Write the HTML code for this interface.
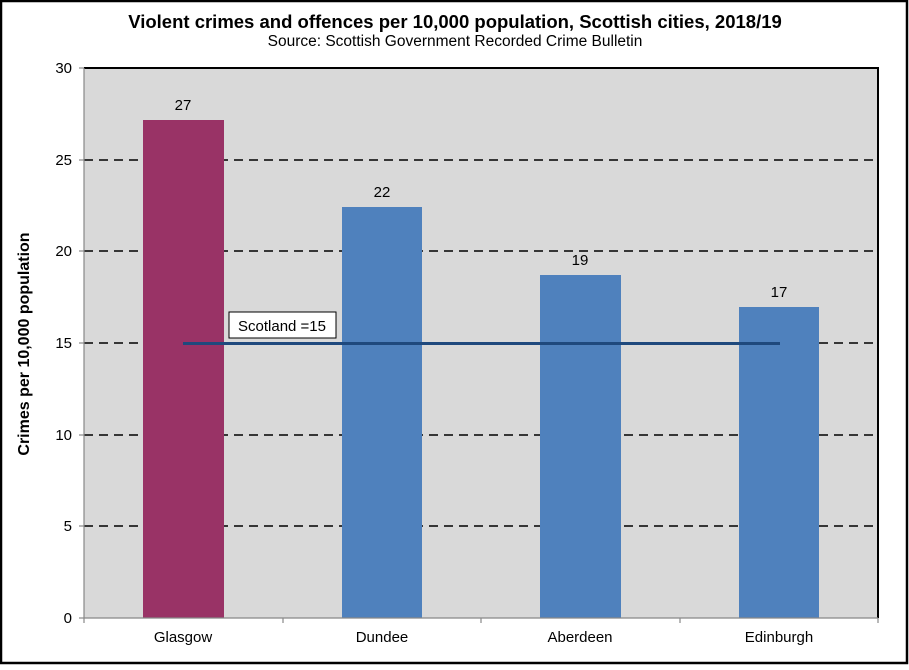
<!DOCTYPE html>
<html><head><meta charset="utf-8"><style>
body{margin:0;background:#fff}
svg text{font-family:"Liberation Sans",Arial,sans-serif}
</style></head><body>
<svg width="909" height="665" viewBox="0 0 909 665" xmlns="http://www.w3.org/2000/svg">
<rect x="1" y="1" width="906" height="662" fill="#fff" stroke="#000" stroke-width="2.5"/>
<text x="455" y="28" font-size="18.5" font-weight="bold" text-anchor="middle">Violent crimes and offences per 10,000 population, Scottish cities, 2018/19</text>
<text x="455" y="46" font-size="15.5" text-anchor="middle">Source: Scottish Government Recorded Crime Bulletin</text>
<rect x="84" y="68" width="794" height="550" fill="#d9d9d9"/>
<g stroke="#000" stroke-width="1.5" stroke-dasharray="9,6">
<line x1="84" y1="160" x2="878" y2="160"/>
<line x1="84" y1="251" x2="878" y2="251"/>
<line x1="84" y1="343" x2="878" y2="343"/>
<line x1="84" y1="435" x2="878" y2="435"/>
<line x1="84" y1="526" x2="878" y2="526"/>
</g>
<rect x="143" y="120" width="81" height="498" fill="#993366"/>
<rect x="342" y="207" width="80" height="411" fill="#4f81bd"/>
<rect x="540" y="275" width="81" height="343" fill="#4f81bd"/>
<rect x="739" y="307" width="80" height="311" fill="#4f81bd"/>
<line x1="183" y1="343.5" x2="780" y2="343.5" stroke="#1f497d" stroke-width="3"/>
<rect x="229" y="312" width="107" height="26" fill="#fff" stroke="#000" stroke-width="1"/>
<text x="282" y="331" font-size="15" text-anchor="middle">Scotland =15</text>
<g font-size="15" text-anchor="middle">
<text x="183" y="110">27</text>
<text x="382" y="197">22</text>
<text x="580" y="265">19</text>
<text x="779" y="297">17</text>
<text x="183" y="642">Glasgow</text>
<text x="382" y="642">Dundee</text>
<text x="580" y="642">Aberdeen</text>
<text x="779" y="642">Edinburgh</text>
</g>
<path d="M84 68H878V618" fill="none" stroke="#000" stroke-width="2"/>
<g stroke="#888" stroke-width="1.2">
<line x1="84" y1="68" x2="84" y2="618"/>
<line x1="84" y1="618" x2="878" y2="618"/>
<line x1="79" y1="68" x2="84" y2="68"/><line x1="79" y1="160" x2="84" y2="160"/>
<line x1="79" y1="251" x2="84" y2="251"/><line x1="79" y1="343" x2="84" y2="343"/>
<line x1="79" y1="435" x2="84" y2="435"/><line x1="79" y1="526" x2="84" y2="526"/>
<line x1="79" y1="618" x2="84" y2="618"/>
<line x1="84" y1="618" x2="84" y2="623"/><line x1="283" y1="618" x2="283" y2="623"/>
<line x1="481" y1="618" x2="481" y2="623"/><line x1="680" y1="618" x2="680" y2="623"/>
<line x1="878" y1="618" x2="878" y2="623"/>
</g>
<g font-size="15" text-anchor="end">
<text x="72" y="73">30</text><text x="72" y="165">25</text><text x="72" y="256">20</text>
<text x="72" y="348">15</text><text x="72" y="440">10</text><text x="72" y="531">5</text>
<text x="72" y="623">0</text>
</g>
<text transform="translate(29,344) rotate(-90)" font-size="16" font-weight="bold" text-anchor="middle">Crimes per 10,000 population</text>
</svg>
</body></html>
